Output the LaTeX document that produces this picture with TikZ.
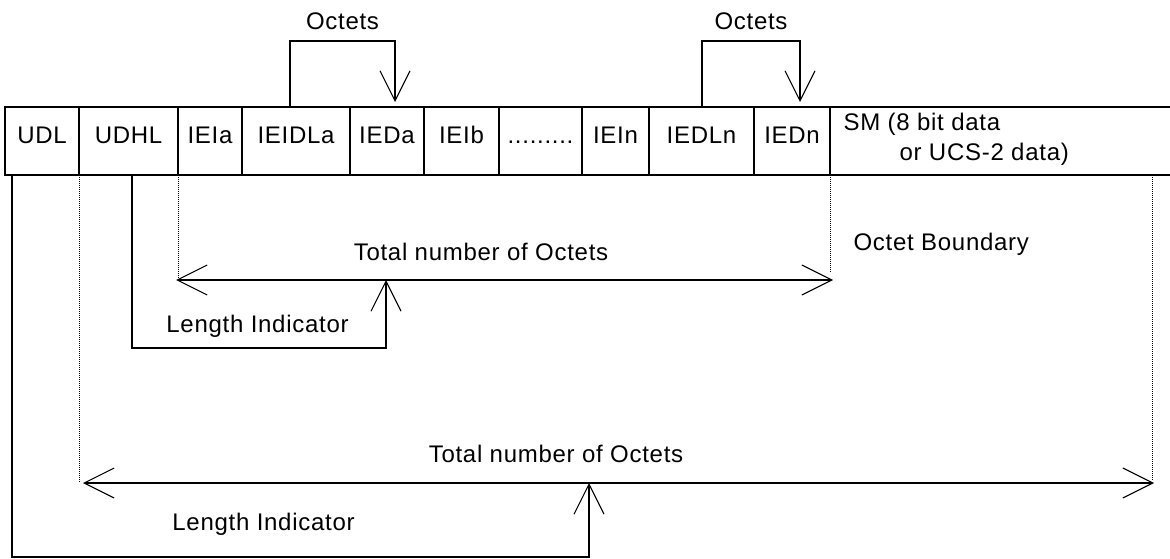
\documentclass[tikz,border=0pt]{standalone}
\usepackage{fontspec}
\setmainfont{Liberation Sans}[LetterSpace=3]
\usetikzlibrary{arrows.meta,calc}
\begin{document}
\begin{tikzpicture}[x=0.75pt,y=-0.75pt,
  line width=0.8pt,
  font=\fontsize{18pt}{22.5pt}\selectfont,
  >={Straight Barb[length=22.5pt,width=22.5pt]},
  cell/.style={draw, rectangle, inner sep=0pt, outer sep=0pt,
    minimum height=51pt, minimum width=#1*0.75pt,
    text height=9pt, text depth=4.5pt, anchor=west},
  blank/.style={rectangle, inner sep=0pt, outer sep=0pt,
    minimum height=51pt, minimum width=#1*0.75pt, anchor=west},
  dotline/.style={line width=0.6pt, dash pattern=on 0.75pt off 0.75pt},
  lbl/.style={inner sep=0pt, anchor=base}
]
\useasboundingbox (0,0) rectangle (1170,559);

% top row of cells
\node[cell=74]  (UDL)    at (5,141)      {UDL};
\node[cell=99]  (UDHL)   at (UDL.east)   {UDHL};
\node[cell=64]  (IEIa)   at (UDHL.east)  {IEIa};
\node[cell=108] (IEIDLa) at (IEIa.east)  {IEIDLa};
\node[cell=74]  (IEDa)   at (IEIDLa.east){IEDa};
\node[cell=75]  (IEIb)   at (IEDa.east)  {IEIb};
\node[cell=83]  (dots)   at (IEIb.east)  {.........};
\node[cell=67]  (IEIn)   at (dots.east)  {IEIn};
\node[cell=105] (IEDLn)  at (IEIn.east)  {IEDLn};
\node[cell=76]  (IEDn)   at (IEDLn.east) {IEDn};
\node[blank=345] (SM)    at (IEDn.east)  {};
\draw (SM.north west) -- (SM.north east);
\draw (SM.south west) -- (SM.south east);
\node[inner sep=0pt, anchor=base west, align=left] (SMtext) at (843,161)
  {SM (8 bit data\\\hspace*{42pt}or UCS-2 data)};

% Octets brackets
\draw[->] ($(IEIDLa.north)+(-6,0)$) -- ++(0,-66) -| ($(IEDa.north)+(8,-5)$);
\node[lbl] (oct1) at (342.5,30) {Octets};
\draw[->] ($(IEDLn.north)+(0.5,0)$) -- ++(0,-66) -| ($(IEDn.north)+(8,-5)$);
\node[lbl] (oct2) at (751,30) {Octets};

% upper measure
\coordinate (upL) at (176,280);
\coordinate (upR) at (833,280);
\coordinate (li2) at (386,280);
\draw[dotline] (IEIa.south west) -- (IEIa.south west |- upL);
\draw[dotline] (IEDn.south east) -- ($(IEDn.south east |- upR)+(0,-8)$);
\draw[<->] (upL) -- (upR);
\draw[->] ($(UDHL.south)+(3.5,0)$) |- (386,348) -- (li2);
\node[lbl] (tot1) at (481,261) {Total number of Octets};
\node[lbl] (len1) at (257.5,333) {Length Indicator};
\node[inner sep=0pt, anchor=base west] (ob) at (853,251) {Octet Boundary};

% lower measure
\coordinate (loL) at (83,483);
\coordinate (loR) at (1154,483);
\coordinate (li1) at (589,483);
\draw[dotline] (UDHL.south west) -- (UDHL.south west |- loL);
\draw[dotline] ($(SM.south west)+(322,0)$) -- ($(SM.south west)+(322,305)$);
\draw[<->] (loL) -- (loR);
\draw[->] ($(UDL.south west)+(7,0)$) |- (589,557) -- (li1);
\node[lbl] (tot2) at (556,462) {Total number of Octets};
\node[lbl] (len2) at (263.5,530) {Length Indicator};
\end{tikzpicture}
\end{document}
